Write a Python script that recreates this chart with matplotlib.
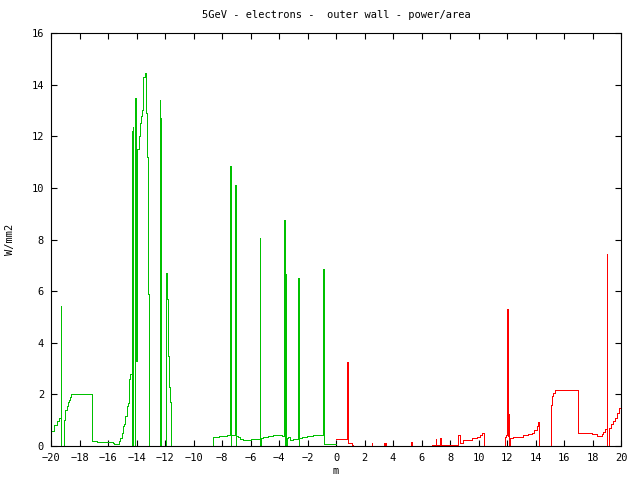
import matplotlib
matplotlib.use("Agg")
import matplotlib.pyplot as plt
import numpy as np

# green trace (x < 0), step-post points: value holds until next x
green_x = [-20, -19.8, -19.6, -19.45, -19.30, -19.28, -19.27, -19.06, -18.99, -18.90,
           -18.83, -18.76, -18.69, -18.60, -17.10, -16.75, -16.28, -15.67, -15.55, -15.20,
           -15.15, -15.04, -14.92, -14.85, -14.78, -14.70, -14.62, -14.55, -14.50, -14.45,
           -14.32, -14.30, -14.25, -14.23, -14.08, -14.06, -13.99, -13.94, -13.85, -13.75,
           -13.68, -13.61, -13.52, -13.43, -13.33, -13.26, -13.19, -13.12, -12.35, -12.33,
           -12.28, -12.26, -11.93, -11.86, -11.79, -11.72, -11.65, -11.58, -8.61, -8.19,
           -7.67, -7.41, -7.39, -7.36, -7.06, -7.04, -7.00, -6.85, -6.75, -6.51,
           -5.96, -5.33, -5.31, -5.26, -5.10, -4.75, -4.40, -4.00, -3.81, -3.63,
           -3.61, -3.56, -3.54, -3.46, -3.39, -3.25, -3.00, -2.64, -2.62, -2.58,
           -2.41, -2.06, -1.64, -0.89, -0.87, 0.0]
green_y = [0.6, 0.8, 0.95, 1.1, 0, 5.43, 0, 1.0, 1.4, 1.55,
           1.7, 1.8, 1.9, 2.0, 0.2, 0.17, 0.14, 0.12, 0.06, 0.2,
           0.3, 0.5, 0.78, 0.85, 1.16, 1.55, 1.67, 2.2, 2.6, 2.78,
           12.2, 0, 12.35, 0, 13.5, 3.3, 3.4, 11.5, 12.0, 12.5,
           12.8, 13.0, 14.3, 14.45, 12.9, 11.2, 5.9, 0, 13.4, 0,
           12.7, 0, 6.7, 5.7, 3.5, 2.3, 1.7, 0, 0.36, 0.38,
           0.42, 10.85, 0, 0.42, 10.12, 0, 0.4, 0.36, 0.28, 0.22,
           0.28, 8.05, 0, 0.3, 0.35, 0.38, 0.41, 0.43, 0.38, 8.75,
           0, 6.65, 0, 0.3, 0.35, 0.25, 0.28, 6.5, 0, 0.32,
           0.35, 0.38, 0.42, 6.85, 0.09, 0.09]

# red trace (x > 0)
red_x = [0.0, 0.75, 0.80, 0.82, 1.03, 1.10, 1.20, 2.53, 2.56, 3.40,
         3.42, 3.50, 3.52, 5.24, 5.31, 6.76, 7.00, 7.02, 7.32, 7.34,
         7.54, 8.55, 8.72, 8.89, 9.52, 9.87, 10.10, 10.22, 10.41, 11.86,
         11.95, 12.02, 12.04, 12.09, 12.11, 12.23, 12.45, 12.80, 13.15, 13.50,
         13.73, 13.92, 14.08, 14.20, 14.27, 15.11, 15.16, 15.25, 15.37, 17.00,
         17.95, 18.35, 18.65, 18.77, 18.88, 19.00, 19.02, 19.16, 19.30, 19.45,
         19.55, 19.75, 19.88, 20.0]
red_y = [0.26, 0.26, 3.27, 0.13, 0.1, 0.05, 0, 0.12, 0, 0.1,
         0, 0.1, 0, 0.17, 0, 0.04, 0.26, 0.04, 0.3, 0.04,
         0.05, 0.42, 0.1, 0.22, 0.32, 0.36, 0.41, 0.51, 0, 0.36,
         0.41, 5.32, 0.4, 1.23, 0, 0.3, 0.33, 0.36, 0.41, 0.46,
         0.51, 0.61, 0.77, 0.93, 0, 1.58, 1.94, 2.07, 2.16, 0.49,
         0.45, 0.39, 0.45, 0.54, 0.64, 7.43, 0, 0.7, 0.84, 0.97,
         1.1, 1.29, 1.46, 1.5]

plt.rcParams['font.family'] = ['DejaVu Sans Mono']
plt.rcParams['font.size'] = 7.5

fig = plt.figure(figsize=(6.4, 4.8), dpi=100)
ax = fig.add_axes([51 / 640, 34 / 480, 570 / 640, 413 / 480])

ax.plot(green_x, green_y, color='#00c000', lw=0.72, drawstyle='steps-post', antialiased=False)
ax.plot(red_x, red_y, color='#ff0000', lw=0.72, drawstyle='steps-post', antialiased=False)

ax.set_xlim(-20, 20)
ax.set_ylim(0, 16)
ax.set_xticks(np.arange(-20, 21, 2))
ax.set_yticks(np.arange(0, 17, 2))
ax.tick_params(direction='in', length=4.5, width=0.8, top=True, right=True, pad=5)
for s in ax.spines.values():
    s.set_linewidth(0.8)

ax.set_title("5GeV - electrons -  outer wall - power/area", fontsize=7.5, pad=11)
ax.set_xlabel("m", labelpad=2)
ax.set_ylabel("W/mm2", labelpad=12)

fig.savefig("out.png", dpi=100)
